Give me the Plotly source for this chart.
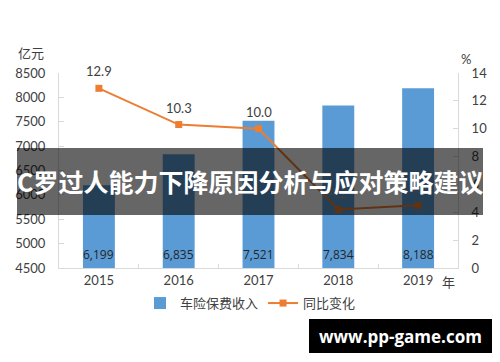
import plotly.graph_objects as go

years = ["2015", "2016", "2017", "2018", "2019"]
premium = [6199, 6835, 7521, 7834, 8188]
growth = [12.9, 10.3, 10.0, 4.2, 4.5]
premium_labels = ["6,199", "6,835", "7,521", "7,834", "8,188"]
growth_labels = ["12.9", "10.3", "10.0", "4.2", "4.5"]
left_ticks = [4500, 5000, 5500, 6000, 6500, 7000, 7500, 8000, 8500]
right_ticks = [0, 2, 4, 6, 8, 10, 12, 14]

title_text = "C罗过人能力下降原因分析与应对策略建议"
watermark = "www.pp-game.com"

NUM_FONT = "Lato, 'Noto Sans', sans-serif"
CJK_FONT = "'Noto Sans CJK SC', sans-serif"
AX_COLOR = "#d9d9d9"
TXT = "#404040"

L, R, T, B, W, H = 59, 42, 73, 94, 500, 362
pw = W - L - R
ph = H - T - B


def px(x):
    return (x - L) / pw


def py(y):
    return (H - B - y) / ph


fig = go.Figure()
fig.add_trace(go.Bar(
    x=years, y=premium, name="车险保费收入",
    marker=dict(color="#5b9bd5", line=dict(width=0)),
    width=0.4, yaxis="y",
))
fig.add_trace(go.Scatter(
    x=years, y=growth, name="同比变化", yaxis="y2",
    mode="lines+markers",
    line=dict(color="#ed7d31", width=2),
    marker=dict(symbol="square", size=7, color="#ed7d31"),
))

for i, lab in enumerate(premium_labels):
    fig.add_annotation(x=i, y=4500, xref="x", yref="y", text=lab, showarrow=False,
                       xanchor="center", yanchor="middle", yshift=14,
                       font=dict(family="'Open Sans', sans-serif", size=12, color="#262626"))

for i, (v, lab) in enumerate(zip(growth, growth_labels)):
    fig.add_annotation(x=i, y=v, xref="x", yref="y2", text=lab, showarrow=False,
                       xanchor="center", yanchor="middle", yshift=17,
                       font=dict(family=NUM_FONT, size=13, color=TXT))

fig.update_layout(
    width=W, height=H,
    margin=dict(l=L, r=R, t=T, b=B),
    paper_bgcolor="white", plot_bgcolor="white",
    showlegend=True,
    legend=dict(orientation="h", x=0.48, xanchor="center", y=-0.18, yanchor="middle",
                font=dict(family=CJK_FONT, size=13, color=TXT), itemwidth=30,
                bgcolor="rgba(0,0,0,0)"),
    xaxis=dict(type="category", showline=True, linecolor=AX_COLOR, linewidth=1, ticks="inside",
               tickson="boundaries", ticklen=4, tickcolor=AX_COLOR, showgrid=False,
               tickfont=dict(family=NUM_FONT, size=13, color=TXT), range=[-0.5, 4.5]),
    yaxis=dict(range=[4500, 8500], tickvals=left_ticks, showline=True, linecolor=AX_COLOR,
               ticks="inside", ticklen=5, tickcolor=AX_COLOR, showgrid=False, zeroline=False,
               tickfont=dict(family=NUM_FONT, size=13, color=TXT), ticklabelstandoff=10),
    yaxis2=dict(range=[0, 14], tickvals=right_ticks, overlaying="y", side="right",
                showline=True, linecolor=AX_COLOR, ticks="inside", ticklen=5,
                tickcolor=AX_COLOR, showgrid=False, zeroline=False,
                tickfont=dict(family=NUM_FONT, size=13, color=TXT), ticklabelstandoff=10),
)

# axis unit labels
fig.add_annotation(x=px(31), y=py(53), xref="paper", yref="paper", text="亿元", showarrow=False,
                   xanchor="center", yanchor="middle",
                   font=dict(family=CJK_FONT, size=13, color=TXT))
fig.add_annotation(x=px(466), y=py(59), xref="paper", yref="paper", text="%", showarrow=False,
                   xanchor="center", yanchor="middle",
                   font=dict(family=NUM_FONT, size=13, color=TXT))
fig.add_annotation(x=px(448), y=py(281), xref="paper", yref="paper", text="年", showarrow=False,
                   xanchor="center", yanchor="middle",
                   font=dict(family=CJK_FONT, size=13, color=TXT))

# overlay band + title
fig.add_shape(type="rect", xref="paper", yref="paper",
              x0=px(17), x1=px(483), y0=py(215), y1=py(148),
              fillcolor="rgba(0,0,0,0.6)", line=dict(width=0), layer="above")
fig.add_annotation(x=px(250), y=py(181), xref="paper", yref="paper",
                   text="<b>" + title_text + "</b>", showarrow=False,
                   xanchor="center", yanchor="middle",
                   font=dict(family=CJK_FONT, size=25, color="white"))

# watermark box
fig.add_shape(type="rect", xref="paper", yref="paper",
              x0=px(309), x1=px(492), y0=py(353), y1=py(319),
              fillcolor="black", line=dict(width=0), layer="above")
fig.add_annotation(x=px(400), y=py(336), xref="paper", yref="paper",
                   text="<b>" + watermark + "</b>", showarrow=False,
                   xanchor="center", yanchor="middle",
                   font=dict(family="'Open Sans', sans-serif", size=17, color="white"))

fig.write_html("out.html")
